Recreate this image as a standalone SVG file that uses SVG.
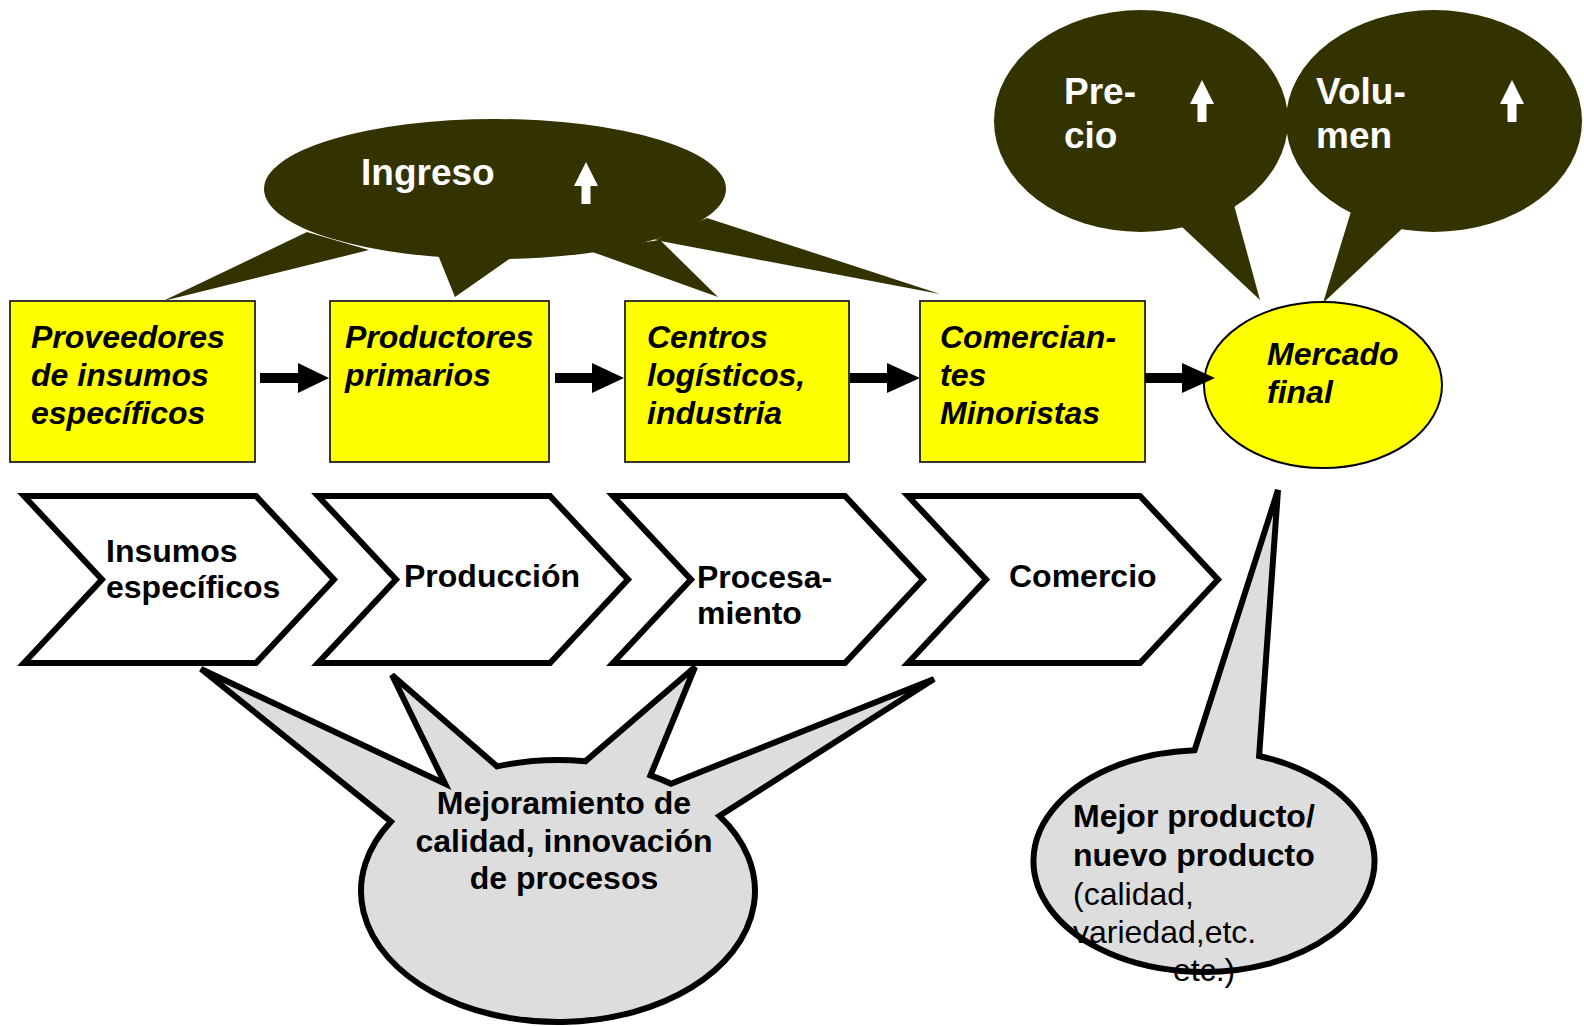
<svg xmlns="http://www.w3.org/2000/svg" width="1584" height="1026" viewBox="0 0 1584 1026">
<style>
.dark{fill:#333300}
.box{fill:#ffff00;stroke:#222;stroke-width:1.8}
.chev{fill:#ffffff;stroke:#000;stroke-width:6;stroke-linejoin:miter}
.gray{fill:#dddddd;stroke:#000;stroke-width:6;stroke-linejoin:miter;stroke-miterlimit:4}
.bi{font-family:"Liberation Sans",Arial,sans-serif;font-weight:bold;font-style:italic;font-size:32px;fill:#000}
.b{font-family:"Liberation Sans",Arial,sans-serif;font-weight:bold;font-size:32px;fill:#000}
.r{font-family:"Liberation Sans",Arial,sans-serif;font-size:32px;fill:#000}
.w{font-family:"Liberation Sans",Arial,sans-serif;font-weight:bold;font-size:37px;fill:#fff}
.up{fill:#fff}
.arr{fill:#000}
</style>
<defs>
<polygon id="chevShape" points="0,0 232,0 310,83.5 232,167 0,167 78,83.5"/>
<path id="upArrow" d="M0,0 L12,24 L4.5,24 L4.5,42 L-4.5,42 L-4.5,24 L-12,24 Z"/>
</defs>
<rect width="1584" height="1026" fill="#ffffff"/>

<g id="ingreso">
<ellipse class="dark" cx="495" cy="189" rx="231" ry="70"/>
<polygon class="dark" points="307,232 163,301 369,250"/>
<polygon class="dark" points="436,250 455,297 515,255"/>
<polygon class="dark" points="587,250 718,297 660,240"/>
<polygon class="dark" points="707,218 940,294 655,240"/>
<text class="w" x="361" y="185">Ingreso</text>
<use href="#upArrow" class="up" x="586" y="162"/>
</g>

<g id="precio">
<ellipse class="dark" cx="1141" cy="121" rx="147" ry="111"/>
<polygon class="dark" points="1180,225 1260,300 1234,205"/>
<text class="w" x="1064" y="104">Pre-</text>
<text class="w" x="1064" y="148">cio</text>
<use href="#upArrow" class="up" x="1202" y="80"/>
</g>

<g id="volumen">
<ellipse class="dark" cx="1434" cy="121" rx="148" ry="111"/>
<polygon class="dark" points="1353,205 1323,303 1406,225"/>
<text class="w" x="1316" y="104">Volu-</text>
<text class="w" x="1316" y="148">men</text>
<use href="#upArrow" class="up" x="1512" y="80"/>
</g>

<g id="proveedores">
<rect class="box" x="10" y="301" width="245" height="161"/>
<text class="bi" x="31" y="348">Proveedores</text>
<text class="bi" x="31" y="386">de insumos</text>
<text class="bi" x="31" y="424">específicos</text>
</g>

<g id="productores">
<rect class="box" x="330" y="301" width="219" height="161"/>
<text class="bi" x="345" y="348">Productores</text>
<text class="bi" x="345" y="386">primarios</text>
</g>

<g id="centros">
<rect class="box" x="625" y="301" width="224" height="161"/>
<text class="bi" x="647" y="348">Centros</text>
<text class="bi" x="647" y="386">logísticos,</text>
<text class="bi" x="647" y="424">industria</text>
</g>

<g id="comerciantes">
<rect class="box" x="920" y="301" width="225" height="161"/>
<text class="bi" x="940" y="348">Comercian-</text>
<text class="bi" x="940" y="386">tes</text>
<text class="bi" x="940" y="424">Minoristas</text>
</g>

<g id="mercado">
<ellipse cx="1323" cy="385" rx="119" ry="83" fill="#ffff00" stroke="#000" stroke-width="2"/>
<text class="bi" x="1267" y="365">Mercado</text>
<text class="bi" x="1267" y="403">final</text>
</g>

<g id="connectors">
<polygon class="arr" points="260,373 298,373 298,363 329,378 298,393 298,383 260,383"/>
<polygon class="arr" points="555,373 592,373 592,363 624,378 592,393 592,383 555,383"/>
<polygon class="arr" points="850,373 887,373 887,363 920,378 887,393 887,383 850,383"/>
<polygon class="arr" points="1145,373 1182,373 1182,363 1215,378 1182,393 1182,383 1145,383"/>
</g>

<g id="insumos">
<use href="#chevShape" class="chev" x="24" y="496"/>
<text class="b" x="106" y="562">Insumos</text>
<text class="b" x="106" y="598">específicos</text>
</g>

<g id="produccion">
<use href="#chevShape" class="chev" x="318" y="496"/>
<text class="b" x="404" y="587">Producción</text>
</g>

<g id="procesamiento">
<use href="#chevShape" class="chev" x="613" y="496"/>
<text class="b" x="697" y="588">Procesa-</text>
<text class="b" x="697" y="624">miento</text>
</g>

<g id="comercio">
<use href="#chevShape" class="chev" x="908" y="496"/>
<text class="b" x="1009" y="587">Comercio</text>
</g>

<g id="mejoramiento">
<path class="gray" d="M390.9,821.6 L201,669 L445,783.7 L392,675 L497.1,766.4 A197,131 0 0 1 585.4,761.3 L695,667 L650.5,775.3 A197,131 0 0 1 671,783.7 L934,679 L719.4,815.9 A197,131 0 1 1 390.9,821.6 Z"/>
<text class="b" x="564" y="814" text-anchor="middle">Mejoramiento de</text>
<text class="b" x="564" y="852" text-anchor="middle">calidad, innovación</text>
<text class="b" x="564" y="889" text-anchor="middle">de procesos</text>
</g>

<g id="mejor-producto">
<path class="gray" d="M1194.6,750.2 L1278,490 L1259.1,756 A170.5,111 0 1 1 1194.6,750.2 Z"/>
<text class="b" x="1073" y="827">Mejor producto/</text>
<text class="b" x="1073" y="866">nuevo producto</text>
<text class="r" x="1073" y="905">(calidad,</text>
<text class="r" x="1073" y="943">variedad,etc.</text>
<text class="r" x="1173" y="981">etc.)</text>
</g>
</svg>
